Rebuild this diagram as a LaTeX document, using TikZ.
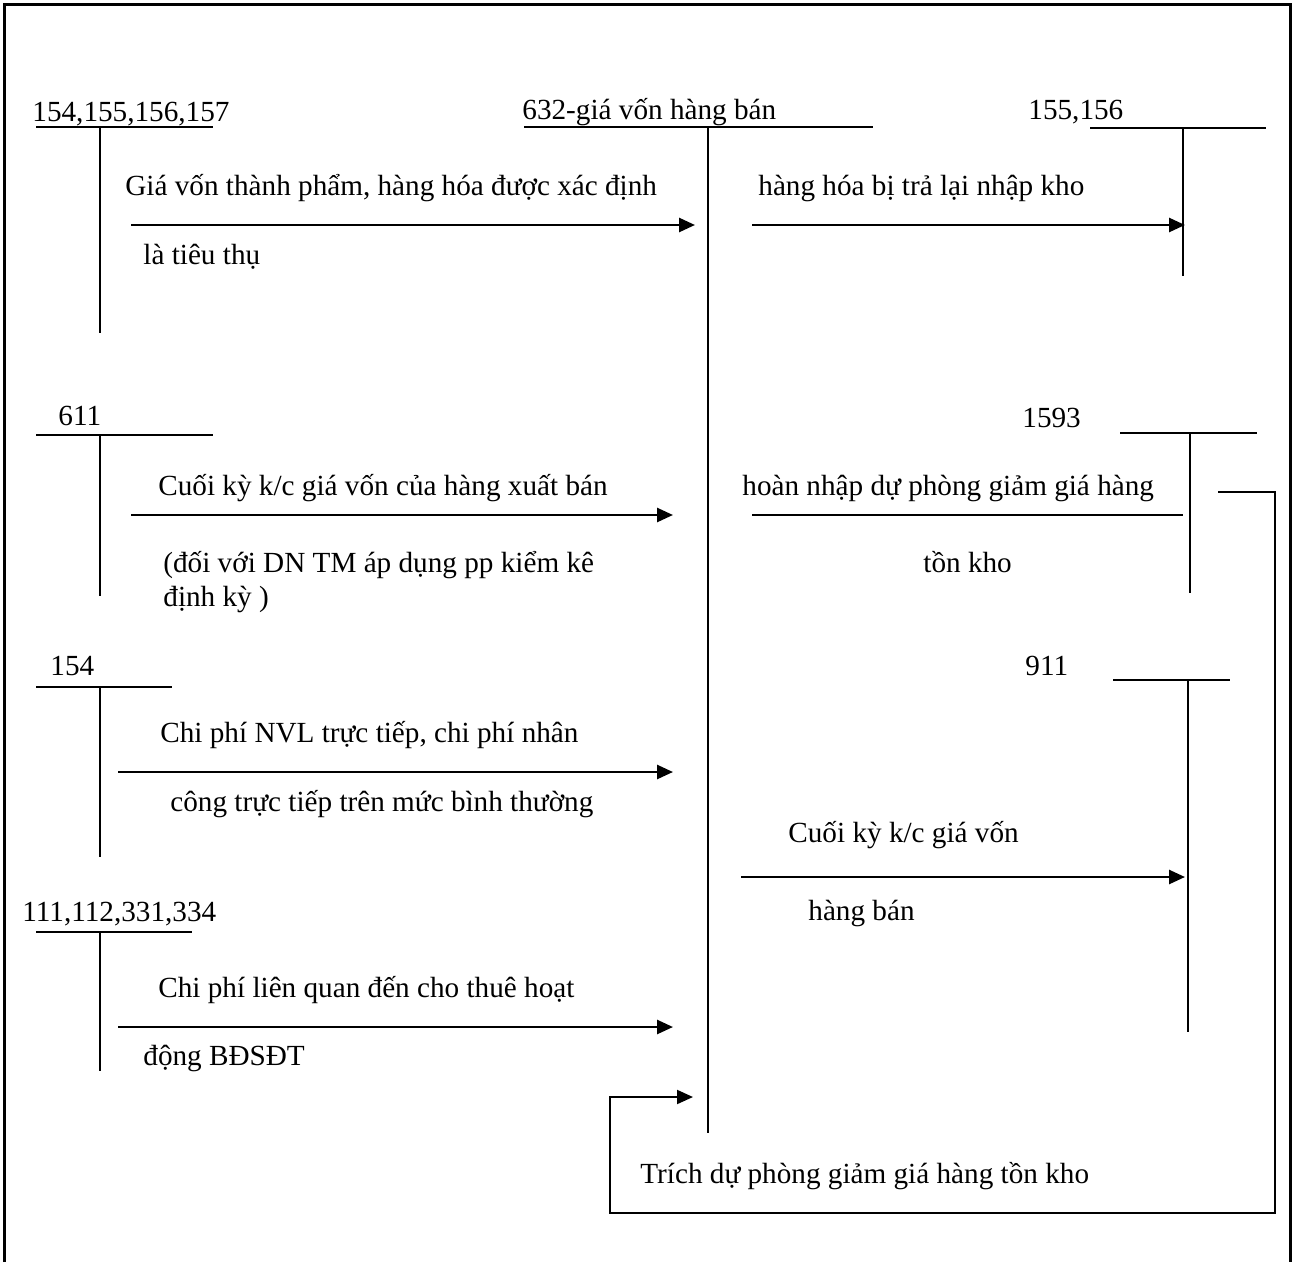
\documentclass[tikz,border=0pt]{standalone}
\usepackage{fontspec}
\setmainfont{Liberation Serif}
\usetikzlibrary{arrows.meta}
\begin{document}
\begin{tikzpicture}[x=0.5pt,y=-0.5pt,
  lbl/.style={anchor=base west,inner sep=0pt,font=\fontsize{14.6}{17}\selectfont},
  acc/.style={line width=1pt},
  arr/.style={line width=1.3pt,-{Triangle[length=8pt,width=7pt]}},
  plain/.style={line width=1pt},
  frame/.style={line width=1.5pt}]
\useasboundingbox (0,0) rectangle (1293,1262);
% outer frame (open at bottom)
\draw[frame] (4,1262) -- (4,5) -- (1290,5) -- (1290,1262);

% T-accounts
\node[lbl] (t1) at (32,122) {154,155,156,157};
\draw[acc] (36,127) -- (213,127) (100,127) coordinate (v1top) -- (100,333) coordinate (v1bot);

\node[lbl] (t2) at (522,120) {632-giá vốn hàng bán};
\draw[acc] (524,127) -- (873,127) (708,127) coordinate (v2top) -- (708,1133) coordinate (v2bot);

\node[lbl] (t3) at (1028,120) {155,156};
\draw[acc] (1090,128) -- (1266,128) (1183,128) coordinate (v3top) -- (1183,276) coordinate (v3bot);

\node[lbl] (t4) at (58,425) {611};
\draw[acc] (36,435) -- (213,435) (100,435) coordinate (v4top) -- (100,596) coordinate (v4bot);

\node[lbl] (t5) at (1022,427) {1593};
\draw[acc] (1120,433) -- (1257,433) (1190,433) coordinate (v5top) -- (1190,593) coordinate (v5bot);

\node[lbl] (t6) at (50,675) {154};
\draw[acc] (36,687) -- (172,687) (100,687) coordinate (v6top) -- (100,857) coordinate (v6bot);

\node[lbl] (t7) at (1025,675) {911};
\draw[acc] (1113,680) -- (1230,680) (1188,680) coordinate (v7top) -- (1188,1032) coordinate (v7bot);

\node[lbl] (t8) at (22,921) {111,112,331,334};
\draw[acc] (36,932) -- (192,932) (100,932) coordinate (v8top) -- (100,1071) coordinate (v8bot);

% arrow a
\coordinate (a1) at (131,225); \coordinate (a2) at (695,225);
\draw[arr] (a1) -- (a2);
\node[lbl] (la1) at (125,196) {Giá vốn thành phẩm, hàng hóa được xác định};
\node[lbl] (la2) at (143,265) {là tiêu thụ};

% arrow b
\coordinate (b1) at (752,225); \coordinate (b2) at (1185,225);
\draw[arr] (b1) -- (b2);
\node[lbl] (lb1) at (758,196) {hàng hóa bị trả lại nhập kho};

% arrow c
\coordinate (c1) at (131,515); \coordinate (c2) at (673,515);
\draw[arr] (c1) -- (c2);
\node[lbl] (lc1) at (158,495) {Cuối kỳ k/c giá vốn của hàng xuất bán};
\node[lbl] (lc2) at (163,572) {(đối với DN TM áp dụng pp kiểm kê};
\node[lbl] (lc3) at (163,606) {định kỳ )};

% line d
\coordinate (d1) at (752,515); \coordinate (d2) at (1183,515);
\draw[plain] (d1) -- (d2);
\node[lbl] (ld1) at (742,495) {hoàn nhập dự phòng giảm giá hàng};
\node[lbl] (ld2) at (923,572) {tồn kho};

% arrow e
\coordinate (e1) at (118,772); \coordinate (e2) at (673,772);
\draw[arr] (e1) -- (e2);
\node[lbl] (le1) at (160,742) {Chi phí NVL trực tiếp, chi phí nhân};
\node[lbl] (le2) at (170,811) {công trực tiếp trên mức bình thường};

% arrow f
\coordinate (f1) at (741,877); \coordinate (f2) at (1185,877);
\draw[arr] (f1) -- (f2);
\node[lbl] (lf1) at (788,842) {Cuối kỳ k/c giá vốn};
\node[lbl] (lf2) at (808,920) {hàng bán};

% arrow g
\coordinate (g1) at (118,1027); \coordinate (g2) at (673,1027);
\draw[arr] (g1) -- (g2);
\node[lbl] (lg1) at (158,997) {Chi phí liên quan đến cho thuê hoạt};
\node[lbl] (lg2) at (143,1065) {động BĐSĐT};

% bracket h
\coordinate (h1) at (1218,492); \coordinate (h2) at (693,1097);
\draw[line width=1pt,-{Triangle[length=8pt,width=7pt]}] (h1) -- (1275,492) -- (1275,1213) -- (610,1213) -- (610,1097) -- (h2);
\node[lbl] (lh) at (640,1183) {Trích dự phòng giảm giá hàng tồn kho};
\end{tikzpicture}
\end{document}
